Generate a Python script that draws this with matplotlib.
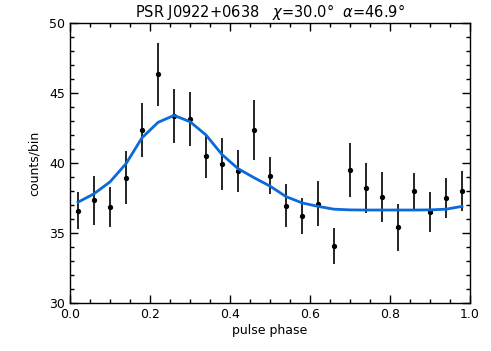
import numpy as np
import matplotlib
matplotlib.use("Agg")
import matplotlib.pyplot as plt
from matplotlib.ticker import MultipleLocator

# Binned pulse profile (25 bins)
phase = [0.02, 0.06, 0.10, 0.14, 0.18, 0.22, 0.26, 0.30, 0.34, 0.38,
         0.42, 0.46, 0.50, 0.54, 0.58, 0.62, 0.66, 0.70, 0.74, 0.78,
         0.82, 0.86, 0.90, 0.94, 0.98]
counts = [36.6, 37.35, 36.85, 38.95, 42.35, 46.35, 43.35, 43.15, 40.5, 39.95,
          39.45, 42.35, 39.1, 36.95, 36.2, 37.1, 34.05, 39.5, 38.2, 37.55,
          35.4, 38.0, 36.5, 37.5, 38.0]
errors = [1.3, 1.75, 1.45, 1.9, 1.95, 2.25, 1.95, 1.95, 1.6, 1.85,
          1.5, 2.15, 1.35, 1.55, 1.3, 1.6, 1.3, 1.95, 1.8, 1.8,
          1.7, 1.3, 1.4, 1.4, 1.4]

# Model light curve
model = [37.2, 37.8, 38.65, 39.95, 41.8, 42.9, 43.4, 42.95, 42.0, 40.6,
         39.6, 38.95, 38.35, 37.6, 37.15, 36.9, 36.7, 36.65, 36.64, 36.64,
         36.64, 36.64, 36.65, 36.7, 36.9]

fig = plt.figure(figsize=(4.91, 3.51), dpi=100)
ax = fig.add_axes([0.1426, 0.1368, 0.8146, 0.7977])

ax.errorbar(phase, counts, yerr=errors, fmt='o', color='black',
            markersize=2.8, elinewidth=1.2, capsize=0, zorder=2)
ax.plot(phase, model, color='#0a6ad8', lw=2.0, zorder=3)

ax.set_xlim(0, 1)
ax.set_ylim(30, 50)
ax.xaxis.set_major_locator(MultipleLocator(0.2))
ax.xaxis.set_minor_locator(MultipleLocator(0.05))
ax.yaxis.set_major_locator(MultipleLocator(5))
ax.yaxis.set_minor_locator(MultipleLocator(1))
ax.tick_params(which='both', direction='in', top=True, right=True,
               labelsize=9, width=1)
ax.tick_params(which='major', length=6)
ax.tick_params(which='minor', length=3)
ax.xaxis.set_major_formatter(plt.FuncFormatter(lambda v, p: f"{v:.1f}"))
for s in ax.spines.values():
    s.set_linewidth(1)

ax.set_xlabel('pulse phase', fontsize=9, labelpad=2)
ax.set_ylabel('counts/bin', fontsize=9, labelpad=6)
ax.set_title('PSR J0922+0638   $\\chi$=30.0°  $\\alpha$=46.9°', fontsize=10.5, pad=4)

fig.savefig('out.png', dpi=100)
